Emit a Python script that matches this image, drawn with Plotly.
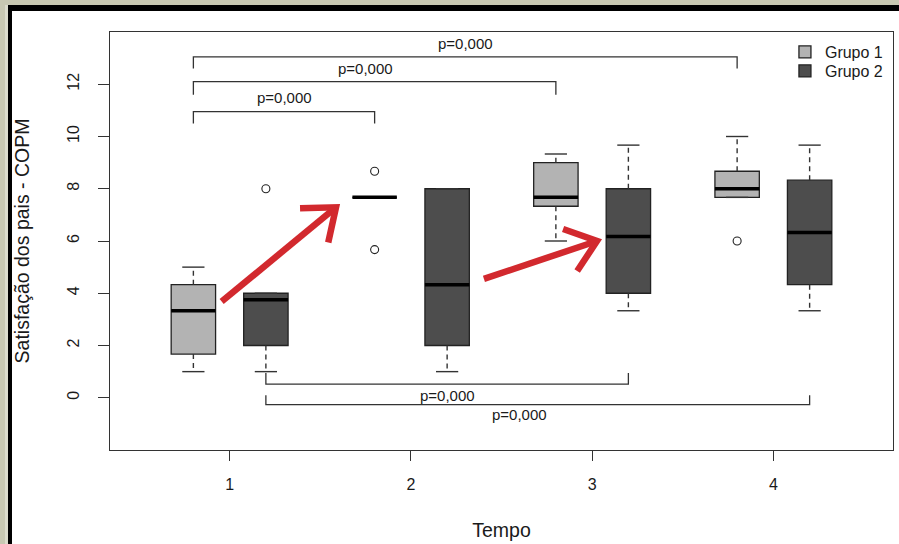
import math
import plotly.graph_objects as go

# ---------------- data ----------------
times = [1, 2, 3, 4]
tick_labels = ["1", "2", "3", "4"]
group_names = ["Grupo 1", "Grupo 2"]

g1_low = [1.0, 7.67, 6.0, 7.67]
g1_q1 = [1.67, 7.67, 7.33, 7.67]
g1_med = [3.33, 7.67, 7.67, 8.0]
g1_q3 = [4.33, 7.67, 9.0, 8.67]
g1_high = [5.0, 7.67, 9.33, 10.0]
g1_out_time = [2, 2, 4]
g1_out_val = [8.67, 5.67, 6.0]

g2_low = [1.0, 1.0, 3.33, 3.33]
g2_q1 = [2.0, 2.0, 4.0, 4.33]
g2_med = [3.75, 4.33, 6.17, 6.33]
g2_q3 = [4.0, 8.0, 8.0, 8.33]
g2_high = [4.0, 8.0, 9.67, 9.67]
g2_out_time = [1]
g2_out_val = [8.0]

p_label = "p=0,000"
# comparisons: (time_a, group_a, time_b, group_b)
top_comparisons = [(1, 0, 4, 0), (1, 0, 3, 0), (1, 0, 2, 0)]
bottom_comparisons = [(1, 1, 3, 1), (1, 1, 4, 1)]

# ---------------- styling ----------------
FONT = "Liberation Sans, Arial, sans-serif"
TXT = "#1a1a1a"
LINE = "#333333"
fills = ["#b3b3b3", "#4d4d4d"]
offsets = [-0.2, 0.2]
BOXW = 0.245
CAPW = BOXW / 2
XR = [0.34, 4.66]
YR = [-2, 14]
ML, MR, MT, MB = 110, 6, 32, 94
W, H = 899, 544
PW, PH = W - ML - MR, H - MT - MB

groups = [
    dict(low=g1_low, q1=g1_q1, med=g1_med, q3=g1_q3, high=g1_high,
         ot=g1_out_time, ov=g1_out_val),
    dict(low=g2_low, q1=g2_q1, med=g2_med, q3=g2_q3, high=g2_high,
         ot=g2_out_time, ov=g2_out_val),
]

fig = go.Figure()

# whiskers and staples
for gi, g in enumerate(groups):
    wx, wy, cx, cy = [], [], [], []
    for i, t in enumerate(times):
        x = t + offsets[gi]
        wx += [x, x, None, x, x, None]
        wy += [g["q3"][i], g["high"][i], None, g["q1"][i], g["low"][i], None]
        cx += [x - CAPW / 2, x + CAPW / 2, None, x - CAPW / 2, x + CAPW / 2, None]
        cy += [g["high"][i], g["high"][i], None, g["low"][i], g["low"][i], None]
    fig.add_trace(go.Scatter(x=wx, y=wy, mode="lines", showlegend=False, hoverinfo="skip",
                             line=dict(color=LINE, width=1.4, dash="5px,4px")))
    fig.add_trace(go.Scatter(x=cx, y=cy, mode="lines", showlegend=False, hoverinfo="skip",
                             line=dict(color=LINE, width=1.4)))

# boxes (each group in its own legend so the entries can sit closer together)
legend_ids = ["legend", "legend2"]
for gi, g in enumerate(groups):
    xs = [t + offsets[gi] for t in times]
    fig.add_trace(go.Box(
        name=group_names[gi], x=xs, q1=g["q1"], median=g["med"], q3=g["q3"],
        lowerfence=g["q1"], upperfence=g["q3"], width=BOXW, whiskerwidth=0,
        fillcolor=fills[gi], line=dict(color="#222222", width=1.3),
        boxpoints=False, showlegend=True, legend=legend_ids[gi]))

# thick medians
for gi, g in enumerate(groups):
    mx, my = [], []
    for i, t in enumerate(times):
        x = t + offsets[gi]
        mx += [x - BOXW / 2, x + BOXW / 2, None]
        my += [g["med"][i], g["med"][i], None]
    fig.add_trace(go.Scatter(x=mx, y=my, mode="lines", showlegend=False, hoverinfo="skip",
                             line=dict(color="black", width=3.5)))

# outliers
for gi, g in enumerate(groups):
    fig.add_trace(go.Scatter(
        x=[t + offsets[gi] for t in g["ot"]], y=g["ov"], mode="markers",
        showlegend=False, hoverinfo="skip",
        marker=dict(symbol="circle-open", size=8, color="#222222", line=dict(width=1.1))))

shapes = []
annotations = []

# significance brackets (top)
top_levels = [(13.05, 12.6, 13.55), (12.1, 11.6, 12.6), (10.95, 10.5, 11.5)]
text_x_top = [None, 1.75, None]
for k, (ta, ga, tb, gb) in enumerate(top_comparisons):
    xa, xb = ta + offsets[ga], tb + offsets[gb]
    yl, yleg, yt = top_levels[k]
    shapes.append(dict(type="path", xref="x", yref="y",
                       path=f"M{xa},{yleg} L{xa},{yl} L{xb},{yl} L{xb},{yleg}",
                       line=dict(color=LINE, width=1.3)))
    tx = text_x_top[k] if text_x_top[k] is not None else (xa + xb) / 2
    annotations.append(dict(x=tx, y=yt, xref="x", yref="y", text=p_label, showarrow=False,
                            font=dict(family=FONT, size=15, color=TXT)))

bottom_levels = [(0.52, 0.95, 0.1), (-0.26, 0.1, -0.66)]
text_x_bot = [None, 2.6]
for k, (ta, ga, tb, gb) in enumerate(bottom_comparisons):
    xa, xb = ta + offsets[ga], tb + offsets[gb]
    yl, yleg, yt = bottom_levels[k]
    shapes.append(dict(type="path", xref="x", yref="y",
                       path=f"M{xa},{yleg} L{xa},{yl} L{xb},{yl} L{xb},{yleg}",
                       line=dict(color=LINE, width=1.3)))
    tx = text_x_bot[k] if text_x_bot[k] is not None else (xa + xb) / 2
    annotations.append(dict(x=tx, y=yt, xref="x", yref="y", text=p_label, showarrow=False,
                            font=dict(family=FONT, size=15, color=TXT)))

# red arrows (tail -> tip, data coords)
sx = PW / (XR[1] - XR[0])
sy = PH / (YR[1] - YR[0])
arrows = [((0.956, 3.68), (1.587, 7.29)), ((2.403, 4.55), (3.027, 6.0))]
RED = "#d2292e"
for (x0, y0), (x1, y1) in arrows:
    dxp, dyp = (x1 - x0) * sx, (y1 - y0) * sy
    L = math.hypot(dxp, dyp)
    ux, uy = -dxp / L, -dyp / L
    arms = []
    for ang in (math.radians(38), math.radians(-38)):
        rx = ux * math.cos(ang) - uy * math.sin(ang)
        ry = ux * math.sin(ang) + uy * math.cos(ang)
        arms.append((x1 + rx * 36 / sx, y1 + ry * 36 / sy))
    shapes.append(dict(type="path", xref="x", yref="y",
                       path=f"M{x0},{y0} L{x1},{y1}", line=dict(color=RED, width=6.5)))
    shapes.append(dict(type="path", xref="x", yref="y",
                       path=f"M{arms[0][0]},{arms[0][1]} L{x1},{y1} L{arms[1][0]},{arms[1][1]}",
                       line=dict(color=RED, width=6.5)))

# window frame (paper coords)
def px(p):
    return (p - ML) / PW

def py(p):
    return (H - MB - p) / PH

frame = [
    (0, 0, 899, 5, "#c8c8b2"),
    (0, 0, 5, 544, "#c8c8b2"),
    (5, 5, 8, 544, "#dcdccc"),
    (8, 5, 899, 11, "#000000"),
    (8, 5, 12, 544, "#000000"),
]
for x0, y0, x1, y1, c in frame:
    shapes.append(dict(type="rect", xref="paper", yref="paper", layer="below",
                       x0=px(x0), x1=px(x1), y0=py(y1), y1=py(y0),
                       fillcolor=c, line=dict(width=0)))

legend_style = dict(xanchor="left", yanchor="middle", bgcolor="rgba(0,0,0,0)",
                    font=dict(family=FONT, size=16, color=TXT), itemwidth=30)

fig.update_layout(
    width=W, height=H,
    margin=dict(l=ML, r=MR, t=MT, b=MB),
    paper_bgcolor="white", plot_bgcolor="rgba(0,0,0,0)",
    boxmode="overlay",
    font=dict(family=FONT, size=16, color=TXT),
    shapes=shapes, annotations=annotations,
    legend=dict(x=0.862, y=py(52), **legend_style),
    legend2=dict(x=0.862, y=py(71), **legend_style),
    xaxis=dict(range=XR, tickmode="array", tickvals=times, ticktext=tick_labels,
               showgrid=False, zeroline=False, showline=True, mirror=True,
               linecolor=LINE, linewidth=1.3, ticks="outside", ticklen=10,
               tickcolor=LINE, tickwidth=1.3, ticklabelstandoff=10,
               tickfont=dict(family=FONT, size=16, color=TXT),
               title=dict(text="Tempo", standoff=31,
                          font=dict(family=FONT, size=19.5, color=TXT))),
    yaxis=dict(range=YR, tickmode="array", tickvals=[0, 2, 4, 6, 8, 10, 12],
               showgrid=False, zeroline=False, showline=True, mirror=True,
               linecolor=LINE, linewidth=1.3, ticks="outside", ticklen=11,
               tickcolor=LINE, tickwidth=1.3, tickangle=-90, ticklabelstandoff=12,
               tickfont=dict(family=FONT, size=16, color=TXT),
               title=dict(text="Satisfação dos pais - COPM", standoff=30,
                          font=dict(family=FONT, size=19.5, color=TXT))),
)

fig.write_html("out.html", config={"displayModeBar": False},
               post_script="document.body.style.margin='0px';")
